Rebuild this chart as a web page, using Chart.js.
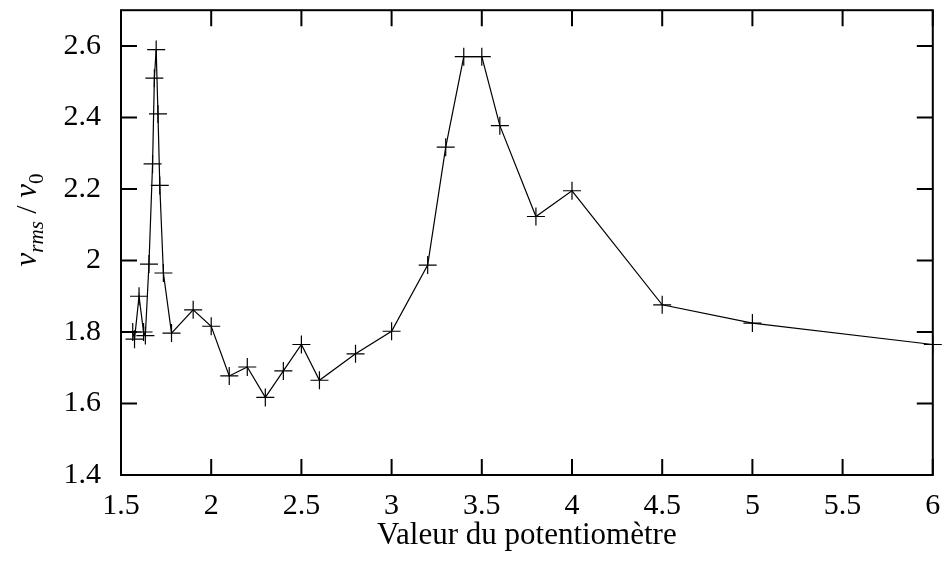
<!DOCTYPE html>
<html>
<head>
<meta charset="utf-8">
<script src="https://cdn.jsdelivr.net/npm/chart.js@4/dist/chart.umd.min.js"></script>
<style>
  html, body { margin: 0; padding: 0; background: #fff; }
  #wrap { width: 943px; height: 563px; }
</style>
</head>
<body>
<div id="wrap"><canvas id="potChart"></canvas></div>
<script>
// Potentiometer setting vs. normalised rms velocity
const potValues = [1.565, 1.575, 1.60, 1.625, 1.635, 1.655, 1.675, 1.685, 1.695, 1.705, 1.715, 1.735, 1.78,
  1.9, 2.0, 2.1, 2.2, 2.3, 2.4, 2.5, 2.6, 2.8, 3.0, 3.2, 3.3, 3.4, 3.5, 3.6, 3.8, 4.0, 4.5, 5.0, 6.0];
const vrmsRatio = [1.80, 1.78, 1.90, 1.80, 1.79, 1.99, 2.27, 2.51, 2.59, 2.41, 2.21, 1.965, 1.797,
  1.862, 1.816, 1.677, 1.702, 1.617, 1.691, 1.765, 1.665, 1.739, 1.802, 1.987, 2.317, 2.570, 2.570, 2.377, 2.123, 2.195, 1.876, 1.825, 1.765];

const xTicks = [1.5, 2, 2.5, 3, 3.5, 4, 4.5, 5, 5.5, 6];
const yTicks = [1.4, 1.6, 1.8, 2.0, 2.2, 2.4, 2.6];

const serif = "'Liberation Serif', 'DejaVu Serif', serif";

const points = potValues.map((v, i) => ({ x: v, y: vrmsRatio[i] }));

// gnuplot-like frame with inward ticks on every side
const framePlugin = {
  id: 'frame',
  afterDatasetsDraw(chart) {
    const { ctx, chartArea: a, scales } = chart;
    const len = 16;
    ctx.save();
    ctx.strokeStyle = '#000';
    ctx.lineWidth = 2;
    ctx.strokeRect(a.left, a.top, a.right - a.left, a.bottom - a.top);
    ctx.beginPath();
    xTicks.forEach(t => {
      const px = scales.x.getPixelForValue(t);
      ctx.moveTo(px, a.bottom); ctx.lineTo(px, a.bottom - len);
      ctx.moveTo(px, a.top); ctx.lineTo(px, a.top + len);
    });
    yTicks.forEach(t => {
      const py = scales.y.getPixelForValue(t);
      ctx.moveTo(a.left, py); ctx.lineTo(a.left + len, py);
      ctx.moveTo(a.right, py); ctx.lineTo(a.right - len, py);
    });
    ctx.stroke();
    ctx.restore();
  }
};

// y axis title with subscripts: v_rms / v_0
const yTitlePlugin = {
  id: 'yTitle',
  afterDraw(chart) {
    const { ctx } = chart;
    const parts = [
      { t: 'v', f: 'italic 31px ' + serif, dy: 0 },
      { t: 'rms', f: 'italic 21px ' + serif, dy: 7 },
      { t: ' / ', f: '30px ' + serif, dy: 0 },
      { t: 'v', f: 'italic 31px ' + serif, dy: 0 },
      { t: '0', f: '21px ' + serif, dy: 7 }
    ];
    ctx.save();
    let total = 0;
    parts.forEach(p => { ctx.font = p.f; p.w = ctx.measureText(p.t).width; total += p.w; });
    ctx.translate(28, 220);
    ctx.rotate(-Math.PI / 2);
    ctx.fillStyle = '#000';
    ctx.textBaseline = 'alphabetic';
    let x = -total / 2;
    parts.forEach(p => {
      ctx.font = p.f;
      ctx.fillText(p.t, x, 8 + p.dy);
      x += p.w;
    });
    ctx.restore();
  }
};

const fmt = v => String(+Number(v).toFixed(2));

new Chart(document.getElementById('potChart'), {
  type: 'line',
  data: {
    datasets: [{
      data: points,
      borderColor: '#000',
      borderWidth: 1.2,
      pointStyle: 'cross',
      pointRadius: 9,
      pointBorderWidth: 1.2,
      pointBorderColor: '#000',
      pointBackgroundColor: '#000',
      tension: 0,
      clip: false
    }]
  },
  options: {
    responsive: true,
    maintainAspectRatio: false,
    animation: false,
    layout: { padding: { top: 6, right: 10, left: 0, bottom: 0 } },
    plugins: {
      legend: { display: false },
      tooltip: { enabled: false }
    },
    scales: {
      x: {
        type: 'linear',
        min: 1.5,
        max: 6,
        afterFit(scale) {
          scale.height = 88;
          scale.paddingLeft = 0;
          scale.paddingRight = 0;
        },
        afterBuildTicks(scale) { scale.ticks = xTicks.map(v => ({ value: v })); },
        grid: { display: false },
        border: { display: false },
        ticks: {
          autoSkip: false,
          maxRotation: 0,
          padding: 5,
          color: '#000',
          font: { family: serif, size: 30 },
          callback: fmt
        },
        title: {
          display: true,
          text: 'Valeur du potentiomètre',
          color: '#000',
          font: { family: serif, size: 31 },
          padding: { top: 0, bottom: 9 }
        }
      },
      y: {
        type: 'linear',
        min: 1.4,
        max: 2.7,
        afterFit(scale) {
          scale.width = 121;
          scale.paddingTop = 0;
          scale.paddingBottom = 0;
        },
        afterBuildTicks(scale) { scale.ticks = yTicks.map(v => ({ value: v })); },
        grid: { display: false },
        border: { display: false },
        ticks: {
          autoSkip: false,
          padding: 12,
          color: '#000',
          font: { family: serif, size: 30 },
          callback: fmt
        }
      }
    }
  },
  plugins: [framePlugin, yTitlePlugin]
});
</script>
</body>
</html>
